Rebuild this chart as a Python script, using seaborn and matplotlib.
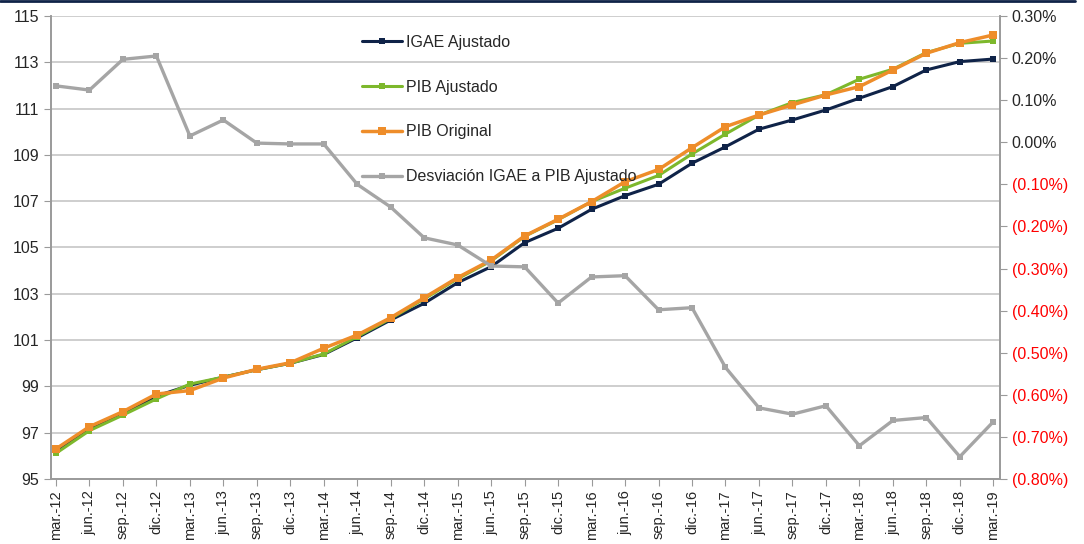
import matplotlib
matplotlib.use("Agg")
import matplotlib.pyplot as plt
from matplotlib import font_manager
from matplotlib.lines import Line2D
from matplotlib.ticker import FuncFormatter
import numpy as np
import pandas as pd
import seaborn as sns

quarters = ["mar.-12", "jun.-12", "sep.-12", "dic.-12", "mar.-13", "jun.-13", "sep.-13",
            "dic.-13", "mar.-14", "jun.-14", "sep.-14", "dic.-14", "mar.-15", "jun.-15",
            "sep.-15", "dic.-15", "mar.-16", "jun.-16", "sep.-16", "dic.-16", "mar.-17",
            "jun.-17", "sep.-17", "dic.-17", "mar.-18", "jun.-18", "sep.-18", "dic.-18",
            "mar.-19"]

igae_ajustado = [96.22, 97.18, 97.82, 98.58, 99.05, 99.40, 99.72, 100.00, 100.38, 101.10,
                 101.87, 102.59, 103.48, 104.17, 105.21, 105.83, 106.65, 107.24, 107.73,
                 108.64, 109.35, 110.11, 110.51, 110.94, 111.45, 111.95, 112.67, 113.03,
                 113.14]
pib_ajustado = [96.11, 97.09, 97.76, 98.46, 99.10, 99.40, 99.72, 100.00, 100.40, 101.15,
                101.93, 102.78, 103.65, 104.42, 105.48, 106.20, 106.98, 107.56, 108.11,
                109.04, 109.90, 110.72, 111.26, 111.60, 112.27, 112.70, 113.42, 113.82,
                113.92]
pib_original = [96.30, 97.26, 97.91, 98.67, 98.82, 99.36, 99.74, 100.02, 100.65, 101.22,
                101.97, 102.83, 103.70, 104.46, 105.50, 106.22, 106.98, 107.84, 108.37,
                109.31, 110.22, 110.72, 111.16, 111.59, 111.95, 112.67, 113.39, 113.85,
                114.18]
# desviacion en puntos porcentuales (eje derecho)
desviacion = [0.134, 0.124, 0.197, 0.205, 0.015, 0.053, -0.002, -0.004, -0.004, -0.100,
              -0.154, -0.227, -0.244, -0.294, -0.296, -0.382, -0.320, -0.317, -0.398,
              -0.393, -0.535, -0.631, -0.646, -0.626, -0.721, -0.661, -0.654, -0.747,
              -0.664]
left_ticks = [95, 97, 99, 101, 103, 105, 107, 109, 111, 113, 115]
right_ticks = [-0.80, -0.70, -0.60, -0.50, -0.40, -0.30, -0.20, -0.10, 0.00, 0.10, 0.20, 0.30]

NAVY = "#0F2348"
GREEN = "#7DB82C"
ORANGE = "#EE8D2A"
GRAY = "#A5A5A5"
AXIS = "#9A9A9A"

sns.set_style("white")
names = {f.name for f in font_manager.fontManager.ttflist}
FONT = "Liberation Sans Narrow" if "Liberation Sans Narrow" in names else "Liberation Sans"
plt.rcParams["font.family"] = [FONT, "DejaVu Sans"]

df = pd.DataFrame({
    "pos": np.arange(len(quarters)),
    "igae": igae_ajustado,
    "pib_aj": pib_ajustado,
    "pib_or": pib_original,
    "desv": desviacion,
})

fig, ax = plt.subplots(figsize=(10.84, 5.44), dpi=100)
fig.subplots_adjust(left=0.047, right=0.9225, top=0.9706, bottom=0.1195)

sns.lineplot(data=df, x="pos", y="igae", ax=ax, color=NAVY, linewidth=2.2,
             marker="s", markersize=4, markeredgewidth=0, label="IGAE Ajustado")
sns.lineplot(data=df, x="pos", y="pib_aj", ax=ax, color=GREEN, linewidth=2.2,
             marker="s", markersize=4.5, markeredgewidth=0, label="PIB Ajustado")
sns.lineplot(data=df, x="pos", y="pib_or", ax=ax, color=ORANGE, linewidth=2.5,
             marker="s", markersize=6, markeredgewidth=0, label="PIB Original")

ax2 = ax.twinx()
sns.lineplot(data=df, x="pos", y="desv", ax=ax2, color=GRAY, linewidth=2.4,
             marker="s", markersize=4.5, markeredgewidth=0,
             label="Desviación IGAE a PIB Ajustado")

ax.set_ylim(95, 115)
ax.set_yticks(left_ticks)
ax2.set_ylim(-0.80, 0.30)
ax2.set_yticks(right_ticks)
ax.set_xlim(-0.15, len(quarters) - 0.8)

ax.set_xticks(df["pos"])
ax.set_xticklabels(quarters, rotation=90, fontsize=10.5)
ax.tick_params(axis="y", labelsize=11.5, length=5, color=AXIS, direction="out", left=True)
ax.tick_params(axis="x", length=5, color=AXIS, direction="out", bottom=True, pad=3)
ax2.tick_params(axis="y", labelsize=11.5, length=5, color=AXIS, direction="out", right=True)
ax.set_xlabel("")
ax.set_ylabel("")
ax2.set_ylabel("")

def pct(v, _):
    if v < -1e-9:
        return f"({abs(v):.2f}%)"
    return f"{abs(v):.2f}%"

ax2.yaxis.set_major_formatter(FuncFormatter(pct))
fig.canvas.draw()
for lab in ax2.get_yticklabels():
    if lab.get_text().startswith("("):
        lab.set_color("#FF0000")

ax.grid(axis="y", color="#C6C6C6", linewidth=1.2)
ax.grid(axis="x", visible=False)
for a in (ax, ax2):
    a.spines["top"].set_visible(False)
    for s in ("left", "right", "bottom"):
        a.spines[s].set_color(AXIS)
        a.spines[s].set_linewidth(1.2)

h1, l1 = ax.get_legend_handles_labels()
h2, l2 = ax2.get_legend_handles_labels()
ax.get_legend().remove()
ax2.legend(h1 + h2, l1 + l2, loc="upper left", bbox_to_anchor=(0.313, 0.99),
           frameon=False, fontsize=11.5, labelspacing=1.86, handlelength=2.5,
           handletextpad=0.25)

fig.add_artist(Line2D([0, 0.992], [0.998, 0.998], transform=fig.transFigure,
                      color=NAVY, linewidth=2))

fig.savefig("out.png", dpi=100)
